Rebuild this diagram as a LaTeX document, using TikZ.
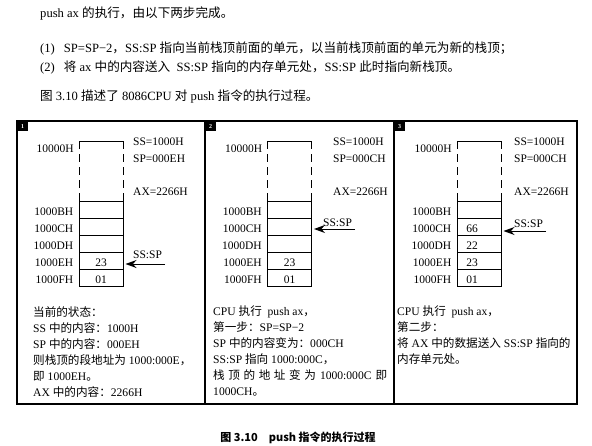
\documentclass[tikz,border=0pt]{standalone}
\usepackage{fontspec}
\setmainfont{Liberation Serif}
\newfontfamily\cjk{Noto Sans CJK SC}
\newcommand\zh[1]{{\cjk #1}}
\usetikzlibrary{arrows.meta,positioning}

\begin{document}
\begin{tikzpicture}[x=1pt,y=-1pt,
  every node/.style={inner sep=0pt},
  lead/.style={anchor=base west,font=\fontsize{12.6}{14}\selectfont},
  lbl/.style={font=\fontsize{11.5}{13}\selectfont},
  addr/.style={lbl,yshift=-2pt},
  reg/.style={lbl,anchor=base west},
  cell/.style={draw,line width=1pt,minimum width=44pt,minimum height=17pt},
  val/.style={lbl,yshift=-2pt},
  note/.style={anchor=north west,align=left,font=\fontsize{11.6}{16}\selectfont},
  tag/.style={fill=black,text=white,anchor=north west,minimum width=11pt,minimum height=10pt,font=\fontsize{6}{6}\selectfont\bfseries},
  ptr/.style={-{Stealth[length=11pt,width=8pt]},line width=1pt,shorten >=2pt}]
 \useasboundingbox (0,0) rectangle (592,445);

 % lead text
 \node[lead] (h1) at (40,17) {push ax \zh{的执行，由以下两步完成。}};
 \node[lead] (h2) at (40,52) {(1)\hspace{9pt}SP=SP−2\zh{，}SS:SP \zh{指向当前栈顶前面的单元，以当前栈顶前面的单元为新的栈顶；}};
 \node[lead] (h3) at (40,71) {(2)\hspace{9pt}\zh{将} ax \zh{中的内容送入}\ \ SS:SP \zh{指向的内存单元处，}SS:SP \zh{此时指向新栈顶。}};
 \node[lead] (h4) at (40,100) {\zh{图} 3.10 \zh{描述了} 8086CPU \zh{对} push \zh{指令的执行过程。}};

 % frame
 \draw[line width=1.2pt] (17,121) rectangle (577,404);
 \draw[line width=1.2pt] (205,121) -- (205,404);
 \draw[line width=1.2pt] (394,121) -- (394,404);
 \node[tag] (g1) at (17,121) {1};
 \node[tag] (g2) at (205,121) {2};
 \node[tag] (g3) at (394,121) {3};

 % stacks
 \foreach \p/\cx/\rx/\sp in {1/101/133/E,2/289.5/333/C,3/479/514/C} {
   \foreach \r [count=\i from 0] in {B,C,D,E,F} {
     \node[cell] (c\p\r) at (\cx,209.5+17*\i) {};
     \node[addr,left=5pt of c\p\r] (a\p\r) {1000\r H};
   }
   \draw[line width=1pt] (\cx-22,149) -- (\cx-22,141) -- (\cx+22,141) -- (\cx+22,149);
   \draw[line width=1pt,dash pattern=on 8pt off 5pt] (\cx-22,154) -- (\cx-22,201) (\cx+22,154) -- (\cx+22,201);
   \node[lbl,anchor=east] (t\p) at (\cx-27,149) {10000H};
   \node[reg] (ss\p) at (\rx,145) {SS=1000H};
   \node[reg] (sp\p) at (\rx,162) {SP=000\sp H};
   \node[reg] (ax\p) at (\rx,195) {AX=2266H};
 }

 % contents
 \node[val] (v1E) at (c1E) {23};
 \node[val] (v1F) at (c1F) {01};
 \node[val] (v2E) at (c2E) {23};
 \node[val] (v2F) at (c2F) {01};
 \foreach \r/\v in {C/66,D/22,E/23,F/01}
   \node[val,xshift=-7pt] (v3\r) at (c3\r) {\v};

 % stack pointers
 \node[reg] (q1) at (133,258) {SS:SP};
 \coordinate (o1) at (165,264);
 \draw[ptr] (o1) -- (o1 -| c1E.east);
 \node[reg] (q2) at (323,226) {SS:SP};
 \coordinate (o2) at (355,229);
 \draw[ptr] (o2) -- (o2 -| c2C.east);
 \node[reg] (q3) at (514,227) {SS:SP};
 \coordinate (o3) at (546,231);
 \draw[ptr] (o3) -- (o3 -| c3C.east);

 % notes
 \node[note] (n1) at (33,306) {\zh{当前的状态：}\\
   SS \zh{中的内容：}1000H\\
   SP \zh{中的内容：}000EH\\
   \zh{则栈顶的段地址为} 1000:000E\zh{，}\\
   \zh{即} 1000EH\zh{。}\\
   AX \zh{中的内容：}2266H};
 \node[note] (n2) at (213,306) {CPU \zh{执行}\ \ push ax\zh{，}\\
   \zh{第一步：}SP=SP−2\\
   SP \zh{中的内容变为：}000CH\\
   SS:SP \zh{指向} 1000:000C\zh{，}\\
   \makebox[174pt][s]{\zh{栈 顶 的 地 址 变 为} 1000:000C \zh{即}}\\
   1000CH\zh{。}};
 \node[note] (n3) at (397,306) {CPU \zh{执行}\ \ push ax\zh{，}\\
   \zh{第二步：}\\
   \zh{将} AX \zh{中的数据送入} SS:SP \zh{指向的}\\
   \zh{内存单元处。}};

 % caption
 \node[anchor=base] (cap) at (298,441) {\cjk\bfseries\fontsize{11}{13}\selectfont 图 3.10\quad push 指令的执行过程};
\end{tikzpicture}
\end{document}
